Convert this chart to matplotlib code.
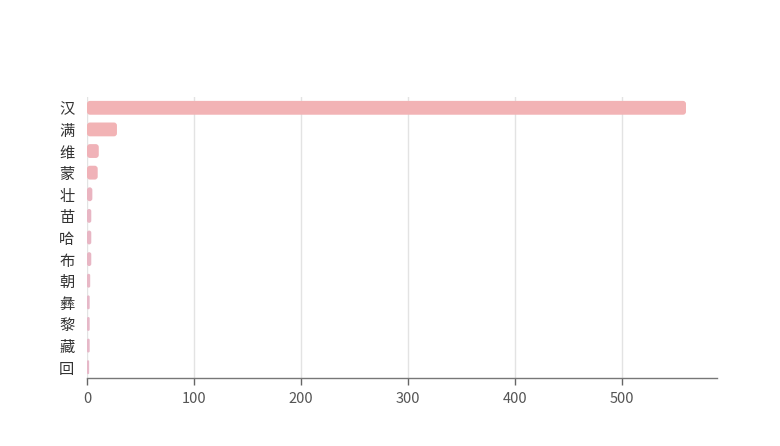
import matplotlib
matplotlib.use('Agg')
import matplotlib.pyplot as plt
from matplotlib.patches import FancyBboxPatch

plt.rcParams['font.family'] = ['Noto Sans CJK SC', 'DejaVu Sans']

# ethnic groups and values
groups = ['汉', '满', '维', '蒙', '壮', '苗', '哈', '布', '朝', '彝', '黎', '藏', '回']
values = [560, 28, 11, 10, 5, 4, 4, 4, 3, 2.5, 2.5, 2.5, 2]
bar_colors = ['#f2b3b5', '#f2b3b5', '#f0b2b8', '#f0b2b8', '#eab4c0', '#e8b6c4',
              '#e8b6c4', '#e8b6c4', '#e8b8c6', '#e6b8c8', '#e6b8c8', '#e6b8c8', '#e6b8c8']
xticks = [0, 100, 200, 300, 400, 500]

W, H = 780, 446
fig = plt.figure(figsize=(W / 100, H / 100), dpi=100)
ax = fig.add_axes([87 / W, 1 - 378 / H, (717 - 87) / W, (378 - 97) / H])

ax.set_xlim(0, 589)
ax.set_ylim(len(groups) - 0.5, -0.5)

bar_h = 0.64
# pixel scales, used to round bar corners evenly
px_x = 589 / (717 - 87)
px_y = len(groups) / (378 - 97)
for i, (v, c) in enumerate(zip(values, bar_colors)):
    r = min(3 * px_x, v / 2)
    p = FancyBboxPatch((0, i - bar_h / 2), v, bar_h,
                       boxstyle=f'round,pad=0,rounding_size={r}',
                       mutation_aspect=px_y / px_x,
                       facecolor=c, edgecolor='none', zorder=3)
    ax.add_patch(p)

ax.set_yticks(range(len(groups)))
ax.set_yticklabels(groups, fontsize=11, color='#333333')
ax.tick_params(axis='y', length=0, pad=9)

ax.set_xticks(xticks)
ax.set_xticklabels([str(t) for t in xticks], fontsize=10.5, color='#555555')
ax.tick_params(axis='x', length=5, width=1, color='#666666', pad=5)

ax.grid(axis='x', color='#e3e3e3', linewidth=1, zorder=0)
ax.set_axisbelow(True)
for s in ['top', 'right', 'left']:
    ax.spines[s].set_visible(False)
ax.spines['bottom'].set_color('#777777')
ax.spines['bottom'].set_linewidth(1)

plt.savefig('out.png', dpi=100)
